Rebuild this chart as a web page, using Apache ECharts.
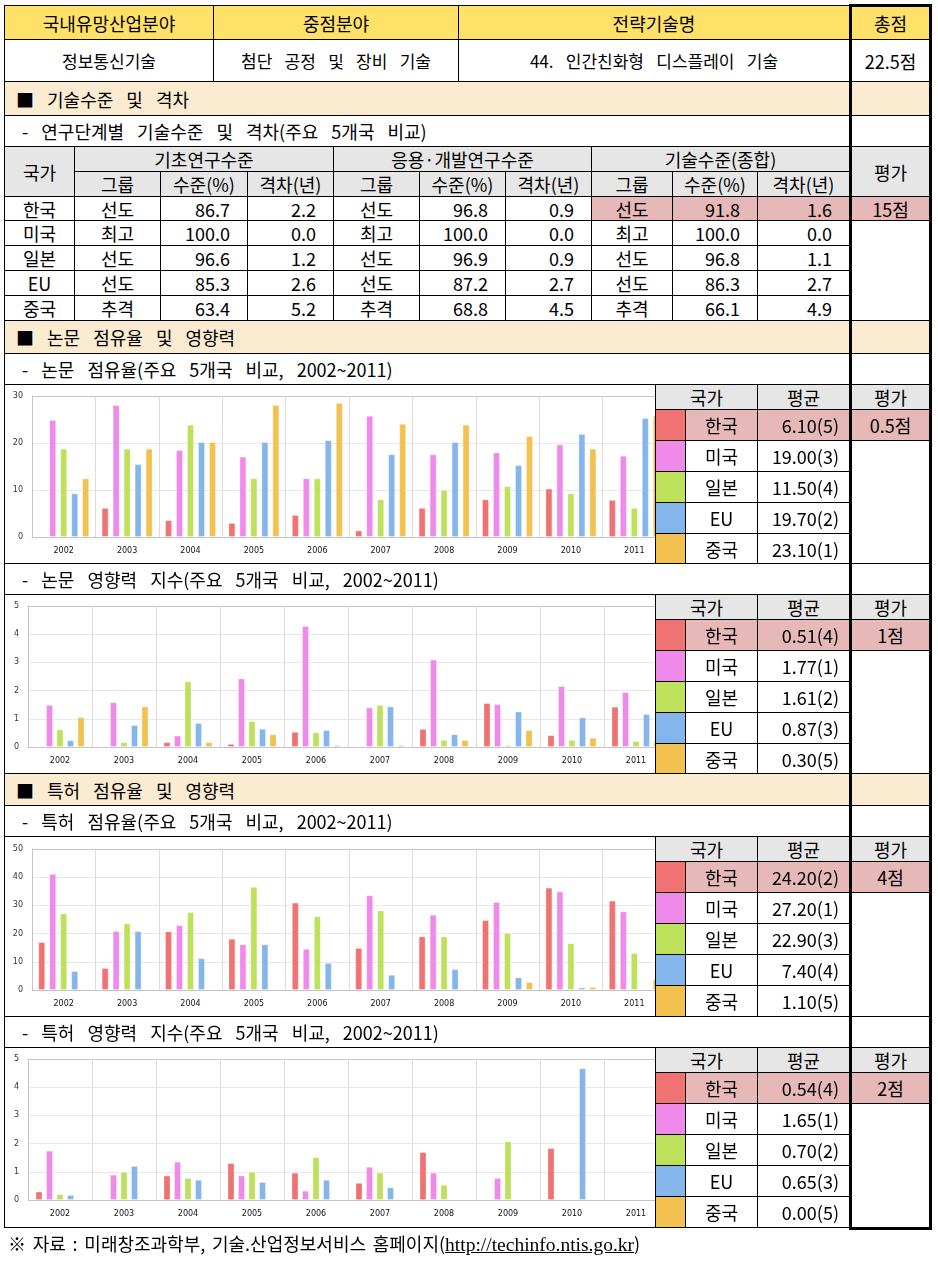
<!DOCTYPE html>
<html><head><meta charset="utf-8">
<script src="https://cdn.jsdelivr.net/npm/echarts@6/dist/echarts.min.js"></script>
<style>
html,body{margin:0;padding:0;background:#fff;}
#page{position:relative;width:938px;height:1271px;overflow:hidden;font-family:'Noto Sans CJK KR','Noto Sans',sans-serif;color:#000;}
.c{position:absolute;box-sizing:border-box;border:1px solid #000;display:flex;align-items:center;font-size:18px;white-space:nowrap;word-spacing:0.5em;line-height:1;overflow:hidden;}
.wrap{position:absolute;overflow:hidden;}
.ch{position:absolute;left:0;top:-1px;width:690px;}
#box{position:absolute;left:849px;top:4px;width:83px;height:1226px;border:3px solid #000;box-sizing:border-box;pointer-events:none;}
#foot{position:absolute;left:8px;top:1230px;font-size:18px;white-space:nowrap;word-spacing:0.15em;}
#foot a{font-family:'Liberation Serif','DejaVu Serif',serif;font-size:19.5px;color:#000;text-decoration:underline;word-spacing:0;}
</style></head>
<body><div id="page"></div>
<script>
// ---------------- DATA ----------------
const years = ['2002','2003','2004','2005','2006','2007','2008','2009','2010','2011'];
const countries = ['한국','미국','일본','EU','중국'];

// 논문 점유율 (%)
const paperShareKR = [0, 6.2, 3.6, 3.0, 4.7, 1.4, 6.2, 8.0, 10.3, 7.9];
const paperShareUS = [24.9, 28.1, 18.5, 17.1, 12.5, 25.8, 17.6, 18.0, 19.7, 17.3];
const paperShareJP = [18.8, 18.8, 23.9, 12.5, 12.5, 8.0, 10.0, 10.8, 9.3, 6.2];
const paperShareEU = [9.3, 15.5, 20.2, 20.2, 20.6, 17.6, 20.2, 15.3, 21.9, 25.3];
const paperShareCN = [12.5, 18.8, 20.2, 28.1, 28.5, 24.1, 23.9, 21.5, 18.8, 25.9];

// 논문 영향력 지수
const paperImpactKR = [0, 0, 0.17, 0.11, 0.54, 0, 0.64, 1.56, 0.42, 1.43];
const paperImpactUS = [1.49, 1.59, 0.41, 2.43, 4.29, 1.40, 3.10, 1.52, 2.16, 1.95];
const paperImpactJP = [0.62, 0.17, 2.33, 0.92, 0.52, 1.49, 0.25, 0.07, 0.25, 0.21];
const paperImpactEU = [0.24, 0.78, 0.85, 0.65, 0.60, 1.44, 0.45, 1.26, 1.05, 1.17];
const paperImpactCN = [1.06, 1.44, 0.17, 0.45, 0.07, 0.07, 0.25, 0.60, 0.33, 0.19];

// 특허 점유율 (%)
const patentShareKR = [17.0, 7.8, 20.8, 18.2, 31.0, 14.9, 19.0, 24.8, 36.3, 31.7];
const patentShareUS = [41.2, 20.9, 23.0, 16.2, 14.6, 33.6, 26.7, 31.2, 35.0, 27.9];
const patentShareJP = [27.2, 23.6, 27.6, 36.6, 26.2, 28.2, 19.0, 20.2, 16.6, 13.1];
const patentShareEU = [6.7, 20.9, 11.3, 16.2, 9.6, 5.4, 7.4, 4.5, 0.9, 0];
const patentShareCN = [0, 0, 0, 0, 0, 0, 0, 2.8, 1.1, 3.9];

// 특허 영향력 지수
const patentImpactKR = [0.30, 0, 0.87, 1.31, 0.97, 0.61, 1.70, 0, 1.84, 0];
const patentImpactUS = [1.75, 0.90, 1.36, 0.87, 0.33, 1.18, 0.97, 0.78, 0, 0];
const patentImpactJP = [0.21, 1.00, 0.78, 1.00, 1.52, 0.97, 0.54, 2.08, 0, 0];
const patentImpactEU = [0.18, 1.21, 0.72, 0.64, 0.72, 0.45, 0, 0, 4.67, 0];
const patentImpactCN = [0, 0, 0, 0, 0, 0, 0, 0, 0, 0];

// 평균(순위) and 평가
const paperShareAvg = ['6.10(5)','19.00(3)','11.50(4)','19.70(2)','23.10(1)'];
const paperImpactAvg = ['0.51(4)','1.77(1)','1.61(2)','0.87(3)','0.30(5)'];
const patentShareAvg = ['24.20(2)','27.20(1)','22.90(3)','7.40(4)','1.10(5)'];
const patentImpactAvg = ['0.54(4)','1.65(1)','0.70(2)','0.65(3)','0.00(5)'];
const scores = ['0.5점','1점','4점','2점'];

// 기술수준 및 격차 table
const basicGroup = ['선도','최고','선도','선도','추격'];
const basicLevel = ['86.7','100.0','96.6','85.3','63.4'];
const basicGap = ['2.2','0.0','1.2','2.6','5.2'];
const appliedGroup = ['선도','최고','선도','선도','추격'];
const appliedLevel = ['96.8','100.0','96.9','87.2','68.8'];
const appliedGap = ['0.9','0.0','0.9','2.7','4.5'];
const totalGroup = ['선도','최고','선도','선도','추격'];
const totalLevel = ['91.8','100.0','96.8','86.3','66.1'];
const totalGap = ['1.6','0.0','1.1','2.7','4.9'];

// y-axis ticks
const shareTicks = {max: 30, interval: 10};
const impactTicks = {max: 5, interval: 1};
const patentShareTicks = {max: 50, interval: 10};

// ---------------- LAYOUT ----------------
const YEL = '#FFE16A', BEIGE = '#FBEBD0', GRAY = '#E6E6E6', PINK = '#E6B8B7';
const COLORS = ['#F07272', '#EF8AEB', '#BDE15A', '#84B6EC', '#F3C14F'];
const page = document.getElementById('page');

function cell(x1, y1, x2, y2, text, o) {
  o = o || {};
  const d = document.createElement('div');
  d.className = 'c';
  d.style.left = x1 + 'px'; d.style.top = y1 + 'px';
  d.style.width = (x2 - x1 + 1) + 'px'; d.style.height = (y2 - y1 + 1) + 'px';
  if (o.bg) d.style.background = o.bg;
  d.style.justifyContent = o.align === 'right' ? 'flex-end' : (o.align === 'left' ? 'flex-start' : 'center');
  if (o.align === 'right') d.style.paddingRight = (o.pad || 0) + 'px';
  if (o.align === 'left') d.style.paddingLeft = (o.pad || 0) + 'px';
  if (o.size) d.style.fontSize = o.size + 'px';
  if (o.weight) d.style.fontWeight = o.weight;
  d.textContent = text;
  page.appendChild(d);
  return d;
}

function chart(y0, y1, top, left, width, series, ticks) {
  const w = document.createElement('div');
  w.className = 'wrap';
  w.style.left = '5px'; w.style.top = (y0 + 1) + 'px';
  w.style.width = '650px'; w.style.height = (y1 - y0 - 1) + 'px';
  const c = document.createElement('div');
  c.className = 'ch';
  c.style.height = (y1 - y0) + 'px';
  w.appendChild(c);
  page.appendChild(w);
  const nLines = ticks.max / ticks.interval + 1;
  const lineColors = [];
  for (let i = 0; i < nLines; i++) lineColors.push(i === 0 || i === nLines - 1 ? '#C4C4C4' : '#E8E8E8');
  const ec = echarts.init(c, null, {renderer: 'canvas'});
  ec.setOption({
    animation: false,
    grid: {left: left, top: top, width: width, height: 141},
    xAxis: {
      type: 'category', data: years,
      axisLine: {show: true, lineStyle: {color: '#C4C4C4'}},
      axisTick: {show: false},
      axisLabel: {fontSize: 8, color: '#111', margin: 10, fontFamily: 'DejaVu Sans'},
      splitLine: {show: true, lineStyle: {color: '#DCDCDC'}}
    },
    yAxis: {
      type: 'value', min: 0, max: ticks.max, interval: ticks.interval,
      axisLine: {show: true, lineStyle: {color: '#C4C4C4'}},
      axisTick: {show: false},
      axisLabel: {fontSize: 8, color: '#333', margin: 9, fontFamily: 'DejaVu Sans'},
      splitLine: {show: true, lineStyle: {color: lineColors}}
    },
    series: series.map((arr, i) => ({
      type: 'bar', name: countries[i],
      data: arr.map(v => v === 0 ? null : v),
      barWidth: 7, barGap: width > 636 ? '50%' : '57%',
      itemStyle: {color: COLORS[i], borderColor: 'rgba(255,255,255,0.3)', borderWidth: 1}
    }))
  });
}

function section(y0, y1, text) {
  cell(4, y0, 849, y1, text, {bg: BEIGE, align: 'left', pad: 11});
  cell(849, y0, 931, y1, '', {bg: BEIGE});
}
function subtitle(y0, y1, text) {
  cell(4, y0, 849, y1, text, {align: 'left', pad: 17});
  cell(849, y0, 931, y1, '');
}
function block(y0, rows, series, ticks, top, left, width, avgs, score) {
  chart(y0, rows[5], top, left, width, series, ticks);
  cell(4, y0, 655, rows[5], '');
  cell(655, y0, 757, rows[0], '국가', {bg: GRAY});
  cell(757, y0, 849, rows[0], '평균', {bg: GRAY});
  cell(849, y0, 931, rows[0], '평가', {bg: GRAY});
  for (let i = 0; i < 5; i++) {
    cell(655, rows[i], 685, rows[i + 1], '', {bg: COLORS[i]});
    cell(685, rows[i], 757, rows[i + 1], countries[i], {bg: i === 0 ? PINK : null});
    cell(757, rows[i], 849, rows[i + 1], avgs[i], {align: 'right', pad: 10, bg: i === 0 ? PINK : null});
  }
  cell(849, rows[0], 931, rows[1], score, {bg: PINK});
  cell(849, rows[1], 931, rows[5], '');
}

// header rows
cell(4, 5, 213, 39, '국내유망산업분야', {bg: YEL});
cell(213, 5, 458, 39, '중점분야', {bg: YEL});
cell(458, 5, 849, 39, '전략기술명', {bg: YEL});
cell(849, 5, 931, 39, '총점', {bg: YEL});
cell(4, 39, 213, 81, '정보통신기술', {size: 17});
cell(213, 39, 458, 81, '첨단 공정 및 장비 기술', {size: 17});
cell(458, 39, 849, 81, '44. 인간친화형 디스플레이 기술', {size: 17});
cell(849, 39, 931, 81, '22.5점');

section(81, 115, '■ 기술수준 및 격차');
subtitle(115, 146, '- 연구단계별 기술수준 및 격차(주요 5개국 비교)');

cell(4, 146, 74, 196, '국가', {bg: GRAY});
const groupCols = [[74, 160, 247, 333], [333, 419, 505, 591], [591, 672, 757, 849]];
const groupTitles = ['기초연구수준', '응용·개발연구수준', '기술수준(종합)'];
const groupData = [[basicGroup, basicLevel, basicGap], [appliedGroup, appliedLevel, appliedGap], [totalGroup, totalLevel, totalGap]];
groupCols.forEach((g, k) => {
  cell(g[0], 146, g[3], 171, groupTitles[k], {bg: GRAY});
  cell(g[0], 171, g[1], 196, '그룹', {bg: GRAY});
  cell(g[1], 171, g[2], 196, '수준(%)', {bg: GRAY});
  cell(g[2], 171, g[3], 196, '격차(년)', {bg: GRAY});
});
cell(849, 146, 931, 196, '평가', {bg: GRAY});
const tRows = [196, 220, 245, 270, 295, 320];
for (let i = 0; i < 5; i++) {
  cell(4, tRows[i], 74, tRows[i + 1], countries[i]);
  groupCols.forEach((g, k) => {
    const bg = (k === 2 && i === 0) ? PINK : null;
    cell(g[0], tRows[i], g[1], tRows[i + 1], groupData[k][0][i], {bg: bg});
    cell(g[1], tRows[i], g[2], tRows[i + 1], groupData[k][1][i], {bg: bg, align: 'right', pad: 17});
    cell(g[2], tRows[i], g[3], tRows[i + 1], groupData[k][2][i], {bg: bg, align: 'right', pad: 17});
  });
}
cell(849, 196, 931, 220, '15점', {bg: PINK});
cell(849, 220, 931, 320, '');

section(320, 353, '■ 논문 점유율 및 영향력');
subtitle(353, 384, '- 논문 점유율(주요 5개국 비교, 2002~2011)');
block(384, [409, 440, 471, 502, 533, 563],
  [paperShareKR, paperShareUS, paperShareJP, paperShareEU, paperShareCN], shareTicks, 12, 27, 634, paperShareAvg, scores[0]);
subtitle(563, 594, '- 논문 영향력 지수(주요 5개국 비교, 2002~2011)');
block(594, [619, 650, 681, 712, 743, 773],
  [paperImpactKR, paperImpactUS, paperImpactJP, paperImpactEU, paperImpactCN], impactTicks, 12, 23, 640, paperImpactAvg, scores[1]);
section(773, 805, '■ 특허 점유율 및 영향력');
subtitle(805, 836, '- 특허 점유율(주요 5개국 비교, 2002~2011)');
block(836, [861, 892, 923, 954, 985, 1016],
  [patentShareKR, patentShareUS, patentShareJP, patentShareEU, patentShareCN], patentShareTicks, 13, 27, 634, patentShareAvg, scores[2]);
subtitle(1016, 1047, '- 특허 영향력 지수(주요 5개국 비교, 2002~2011)');
block(1047, [1072, 1103, 1134, 1165, 1196, 1227],
  [patentImpactKR, patentImpactUS, patentImpactJP, patentImpactEU, patentImpactCN], impactTicks, 12, 23, 640, patentImpactAvg, scores[3]);

const box = document.createElement('div'); box.id = 'box'; page.appendChild(box);
const foot = document.createElement('div'); foot.id = 'foot';
foot.innerHTML = '※ 자료 : 미래창조과학부, 기술.산업정보서비스 홈페이지(<a>http://techinfo.ntis.go.kr</a>)';
page.appendChild(foot);
</script>
</body></html>
